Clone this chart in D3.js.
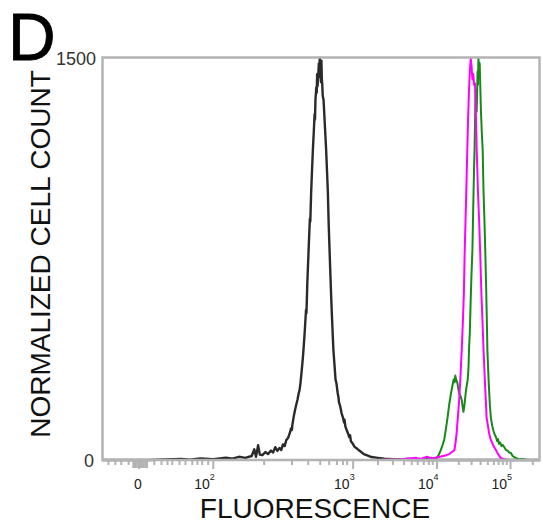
<!DOCTYPE html>
<html>
<head>
<meta charset="utf-8">
<script src="https://d3js.org/d3.v7.min.js"></script>
<style>
  body { margin: 0; background: #fff; }
  text { font-family: "Liberation Sans", Arial, sans-serif; }
</style>
</head>
<body>
<div class="histogram"></div>
<script>

// display channels (0-1024) vs normalized cell count
var blackSeries = [[0,0],[60,0],[110,0],[150,2],[185,4],[205,1],[230,6],[260,3],[290,9],[305,5],[320,12],[335,8],[350,15],[356,40],[360,12],[365,55],[369,20],[375,18],[382,30],[388,22],[395,35],[400,28],[405,48],[410,34],[415,45],[419,37],[423,58],[427,52],[431,75],[435,82],[439,100],[442,118],[444,112],[445,130],[448,160],[451,185],[454,205],[457,225],[460,250],[462,262],[464,287],[467,335],[469,370],[471,410],[474,480],[477,560],[478,548],[480,660],[483,784],[486,900],[487,890],[489,1000],[491,1080],[493,1157],[495,1220],[497,1290],[498,1270],[499,1343],[501,1390],[502,1370],[503,1440],[504,1395],[505,1420],[507,1480],[508,1440],[509,1500],[510,1430],[511,1460],[512,1410],[513,1490],[514,1420],[515,1400],[516,1360],[518,1343],[521,1250],[524,1157],[526,1080],[528,1000],[530,880],[532,784],[534,690],[536,600],[538,520],[541,410],[544,345],[546,300],[548,287],[551,250],[553,232],[554,215],[557,200],[560,175],[563,160],[566,140],[567,150],[569,125],[572,112],[575,100],[578,85],[580,92],[582,70],[586,62],[590,50],[595,44],[600,37],[606,30],[612,22],[620,17],[630,11],[645,8],[660,5],[680,3],[700,1],[730,0],[1024,0]];

var greenSeries = [[0,0],[660,0],[690,4],[700,2],[715,6],[730,3],[750,5],[770,8],[781,5],[787,18],[792,37],[796,55],[800,75],[804,115],[808,160],[812,210],[816,250],[819,275],[822,300],[824,290],[826,315],[828,300],[831,287],[833,265],[835,250],[838,240],[841,224],[843,200],[845,180],[847,200],[849,230],[851,261],[853,280],[855,300],[857,350],[858,410],[860,480],[862,600],[864,700],[866,784],[868,950],[870,1100],[871,1157],[872,1250],[873,1330],[874,1380],[875,1320],[876,1300],[877,1370],[878,1450],[879,1400],[880,1500],[881,1470],[882,1440],[883,1480],[884,1420],[886,1300],[888,1220],[890,1157],[892,1000],[894,900],[896,784],[898,650],[900,500],[901,410],[903,330],[905,260],[907,200],[909,160],[912,130],[915,110],[918,95],[921,86],[924,70],[926,78],[928,60],[931,65],[934,52],[937,56],[940,49],[944,38],[948,35],[952,28],[956,26],[960,15],[965,10],[970,6],[975,2],[982,4],[989,2],[995,0],[1024,0]];

var magentaSeries = [[0,0],[640,0],[700,3],[735,8],[745,4],[760,12],[770,6],[785,10],[795,14],[805,18],[812,22],[818,30],[824,37],[827,70],[829,100],[832,160],[835,224],[838,310],[841,410],[844,530],[846,620],[848,784],[851,960],[854,1157],[856,1280],[858,1380],[860,1450],[862,1500],[864,1470],[866,1420],[868,1440],[870,1400],[872,1405],[874,1300],[876,1157],[879,1000],[882,880],[884,784],[887,620],[890,500],[892,410],[895,300],[898,200],[899,160],[902,130],[905,100],[908,80],[912,65],[916,50],[921,37],[926,22],[932,8],[940,3],[950,0],[1024,0]];

// axis ticks in display channels
var majorTicks = [86, 259, 586, 782, 954];
var majorExp = [null, 2, 3, 4, 5];
var minorTicks = [14, 30, 44, 61, 121, 138, 152, 163, 180, 194, 210, 222, 233, 247,
  378, 443, 481, 509, 530, 548, 562, 572,
  644, 679, 705, 723, 737, 751, 763, 772,
  833, 863, 884, 901, 915, 926, 936, 945, 1006];
var zeroTicks = [72, 76, 80, 84, 88, 92, 96, 100, 104];

var yMax = 1500;

var margin = {top: 58, right: 3, bottom: 63, left: 102},
    width = 543 - margin.left - margin.right,
    height = 523 - margin.top - margin.bottom;

var svg = d3.select('div.histogram').append('svg')
    .attr('width', 543)
    .attr('height', 523);

var x = d3.scaleLinear().domain([0, 1024]).range([0, width]);
var y = d3.scaleLinear().domain([0, yMax]).range([height, 0]);

var g = svg.append("g").attr("transform", "translate(" + margin.left + "," + margin.top + ")");

var line = d3.line()
    .x(function(d) { return x(d[0]); })
    .y(function(d) { return y(d[1]); });

// histograms
g.append("path").datum(blackSeries)
    .attr("d", line)
    .attr("fill", "none")
    .attr("stroke", "#2a2a2a")
    .attr("stroke-width", 2.4)
    .attr("stroke-linejoin", "round");

g.append("path").datum(greenSeries)
    .attr("d", line)
    .attr("fill", "none")
    .attr("stroke", "#168a16")
    .attr("stroke-width", 2)
    .attr("stroke-linejoin", "round");

g.append("path").datum(magentaSeries)
    .attr("d", line)
    .attr("fill", "none")
    .attr("stroke", "#ff00ff")
    .attr("stroke-width", 2)
    .attr("stroke-linejoin", "round");

// frame (drawn over the zero baseline of the traces)
g.append("rect")
    .attr("x", 0.5)
    .attr("y", -0.5)
    .attr("width", width - 1)
    .attr("height", height + 0.5)
    .attr("fill", "none")
    .attr("stroke", "#b3b3b3")
    .attr("stroke-width", 2.5);

// ticks
function tickAxis(vals, size) {
  var a = g.append("g")
      .attr("transform", "translate(0," + height + ")")
      .call(d3.axisBottom(x).tickValues(vals).tickSize(size).tickFormat(""));
  a.select(".domain").remove();
  a.selectAll("line").attr("stroke", "#b3b3b3").attr("stroke-width", 2);
  return a;
}
tickAxis(minorTicks, 5);
tickAxis(zeroTicks, 8);
tickAxis(majorTicks, 9);

// tick labels
var lbl = g.append("g").attr("font-size", 14).attr("fill", "#222");
majorTicks.forEach(function(t, i) {
  if (majorExp[i] === null) {
    lbl.append("text")
        .attr("x", x(t) - 1)
        .attr("y", height + 29)
        .attr("text-anchor", "middle")
        .text("0");
  } else {
    var tx = lbl.append("text")
        .attr("x", x(t) + 2)
        .attr("y", height + 29)
        .attr("text-anchor", "end");
    tx.append("tspan").text("10");
    tx.append("tspan").attr("font-size", 9).attr("dy", -9).text(majorExp[i]);
  }
});

// y extent labels
g.append("text")
    .attr("x", -6)
    .attr("y", y(yMax) + 7)
    .attr("text-anchor", "end")
    .attr("font-size", 18)
    .attr("fill", "#333")
    .text(yMax);

g.append("text")
    .attr("x", -8)
    .attr("y", y(0) + 7)
    .attr("text-anchor", "end")
    .attr("font-size", 18)
    .attr("fill", "#333")
    .text("0");

// axis titles
g.append("text")
    .attr("x", width / 2 - 6)
    .attr("y", height + 58)
    .attr("text-anchor", "middle")
    .attr("font-size", 28)
    .attr("fill", "#111")
    .text("FLUORESCENCE");

g.append("text")
    .attr("transform", "translate(" + (-margin.left + 50) + "," + (height / 2 - 5) + ") rotate(-90)")
    .attr("text-anchor", "middle")
    .attr("font-size", 28)
    .attr("fill", "#111")
    .text("NORMALIZED CELL COUNT");

// panel letter
svg.append("text")
    .attr("x", 8)
    .attr("y", 60)
    .attr("font-size", 66)
    .attr("fill", "#000")
    .attr("stroke", "#000")
    .attr("stroke-width", 0.8)
    .text("D");

</script>
</body>
</html>
